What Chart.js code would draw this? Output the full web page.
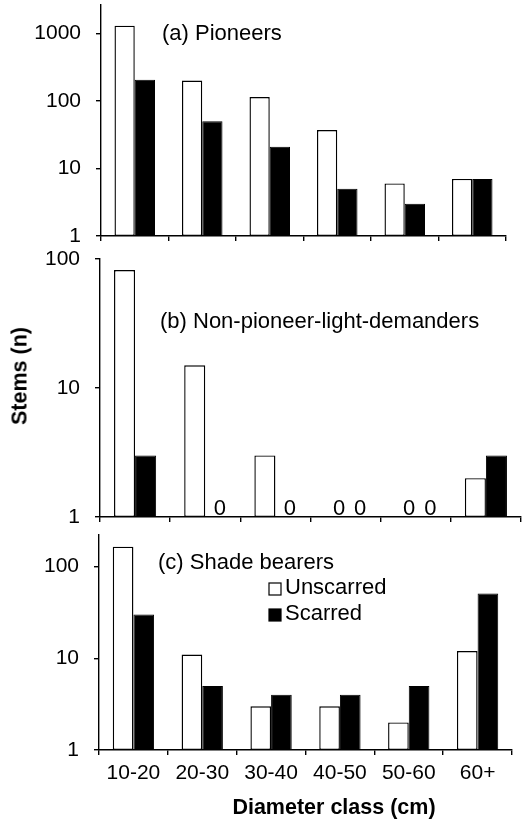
<!DOCTYPE html>
<html>
<head>
<meta charset="utf-8">
<script src="https://cdn.jsdelivr.net/npm/chart.js@4.4.1/dist/chart.umd.min.js"></script>
<style>
html, body { margin: 0; padding: 0; background: #fff; }
body { width: 524px; height: 821px; position: relative; overflow: hidden; font-family: "Liberation Sans", Arial, sans-serif; }
canvas { position: absolute; left: 0; }
.axis-title { position: absolute; font-family: "Liberation Sans", Arial, sans-serif; font-weight: bold; font-size: 21.5px; color: #000; white-space: nowrap; transform: translate(-50%, -50%); }
</style>
</head>
<body>
<canvas id="chartA" width="524" height="250" style="top:0px"></canvas>
<canvas id="chartB" width="524" height="277" style="top:250px"></canvas>
<canvas id="chartC" width="524" height="294" style="top:527px"></canvas>
<div class="axis-title" style="left:20px; top:376px; transform: translate(-50%, -50%) rotate(-90deg);">Stems (n)</div>
<div class="axis-title" style="left:334px; top:807px;">Diameter class (cm)</div>
<script>
// --- Data ---
const classes = ['10-20', '20-30', '30-40', '40-50', '50-60', '60+'];
const pioneersUnscarred = [1300, 200, 114, 37, 6, 7];
const pioneersScarred = [205, 50, 21, 5, 3, 7];
const npldUnscarred = [82, 15, 3, 0, 0, 2];
const npldScarred = [3, 0, 0, 0, 0, 3];
const shadeUnscarred = [165, 11, 3, 3, 2, 12];
const shadeScarred = [30, 5, 4, 4, 5, 51];
const logTicks = [1, 10, 100, 1000];
const seriesNames = ['Unscarred', 'Scarred'];

const FONT = '"Liberation Sans", Arial, sans-serif';

// --- Plugin: panel label, "0" markers and legend ---
const panelText = {
    id: 'panelText',
    afterDraw(chart, args, o) {
        const ctx = chart.ctx;
        ctx.save();
        ctx.fillStyle = '#000';
        ctx.font = '22px ' + FONT;
        ctx.textAlign = 'left';
        ctx.textBaseline = 'middle';
        ctx.fillText(o.title, o.titleX, o.titleY);
        // zero counts can't sit on a log axis, so mark them with "0"
        const yBase = chart.scales.y.bottom - 2;
        ctx.textAlign = 'center';
        ctx.textBaseline = 'alphabetic';
        o.raw.forEach((arr, i) => {
            const meta = chart.getDatasetMeta(i);
            arr.forEach((v, j) => {
                if (v === 0) ctx.fillText('0', meta.data[j].x + 4, yBase);
            });
        });
        if (o.legend) {
            ctx.textAlign = 'left';
            ctx.textBaseline = 'middle';
            chart.data.datasets.forEach((ds, i) => {
                const by = o.legend.y + i * o.legend.step;
                ctx.fillStyle = ds.backgroundColor;
                ctx.fillRect(o.legend.x, by - 8, 12, 12);
                ctx.strokeStyle = '#000';
                ctx.lineWidth = 1.2;
                ctx.strokeRect(o.legend.x, by - 8, 12, 12);
                ctx.fillStyle = '#000';
                ctx.fillText(ds.label, o.legend.x + 16, by - 3);
            });
        }
        ctx.restore();
    }
};

function makePanel(id, p) {
    const toBars = arr => arr.map(v => (v > 0 ? v : null));
    return new Chart(document.getElementById(id), {
        type: 'bar',
        data: {
            labels: classes,
            datasets: [
                {
                    label: seriesNames[0], data: toBars(p.unscarred),
                    backgroundColor: '#ffffff', borderColor: '#000', borderWidth: 1.4,
                    borderSkipped: false, categoryPercentage: 0.6, barPercentage: 1
                },
                {
                    label: seriesNames[1], data: toBars(p.scarred),
                    backgroundColor: '#000000', borderColor: '#000', borderWidth: 1,
                    borderSkipped: false, categoryPercentage: 0.6, barPercentage: 1
                }
            ]
        },
        options: {
            responsive: false,
            animation: false,
            layout: { padding: { top: p.padTop, right: p.padRight, left: 0, bottom: 0 } },
            plugins: {
                legend: { display: false },
                tooltip: { enabled: false },
                panelText: {
                    title: p.title, titleX: p.titleX, titleY: p.titleY,
                    raw: [p.unscarred, p.scarred], legend: p.legend
                }
            },
            scales: {
                x: {
                    type: 'category',
                    offset: true,
                    border: { display: true, color: '#000', width: 1.4 },
                    grid: { display: true, offset: true, drawOnChartArea: false, drawTicks: true, tickLength: 5, color: '#000', lineWidth: 1.4 },
                    ticks: { display: p.showLabels, color: '#000', font: { family: FONT, size: 21 }, padding: 6, maxRotation: 0, autoSkip: false },
                    afterFit: s => { s.height = p.xHeight; s.paddingLeft = 0; s.paddingRight = 0; }
                },
                y: {
                    type: 'logarithmic',
                    min: 1,
                    max: p.yMax,
                    bounds: 'data',
                    border: { display: true, color: '#000', width: 1.4 },
                    grid: { display: true, drawOnChartArea: false, drawTicks: true, tickLength: 5, color: '#000', lineWidth: 1.4 },
                    ticks: { color: '#000', font: { family: FONT, size: 21 }, padding: 15, callback: v => String(v) },
                    afterBuildTicks: s => { s.ticks = logTicks.filter(v => v <= s.max).map(v => ({ value: v })); },
                    afterFit: s => { s.width = p.axisLeft; s.paddingTop = 0; s.paddingBottom = 0; }
                }
            }
        },
        plugins: [panelText]
    });
}

makePanel('chartA', {
    unscarred: pioneersUnscarred, scarred: pioneersScarred, yMax: 2630,
    title: '(a) Pioneers', titleX: 162, titleY: 34,
    padTop: 5, padRight: 18, axisLeft: 101, xHeight: 14, showLabels: false
});

makePanel('chartB', {
    unscarred: npldUnscarred, scarred: npldScarred, yMax: 100,
    title: '(b) Non-pioneer-light-demanders', titleX: 160, titleY: 72,
    padTop: 9, padRight: 3, axisLeft: 100, xHeight: 10, showLabels: false
});

makePanel('chartC', {
    unscarred: shadeUnscarred, scarred: shadeScarred, yMax: 221,
    title: '(c) Shade bearers', titleX: 158, titleY: 36,
    padTop: 8, padRight: 12, axisLeft: 99, xHeight: 71, showLabels: true,
    legend: { x: 269, y: 64, step: 26 }
});
</script>
</body>
</html>
